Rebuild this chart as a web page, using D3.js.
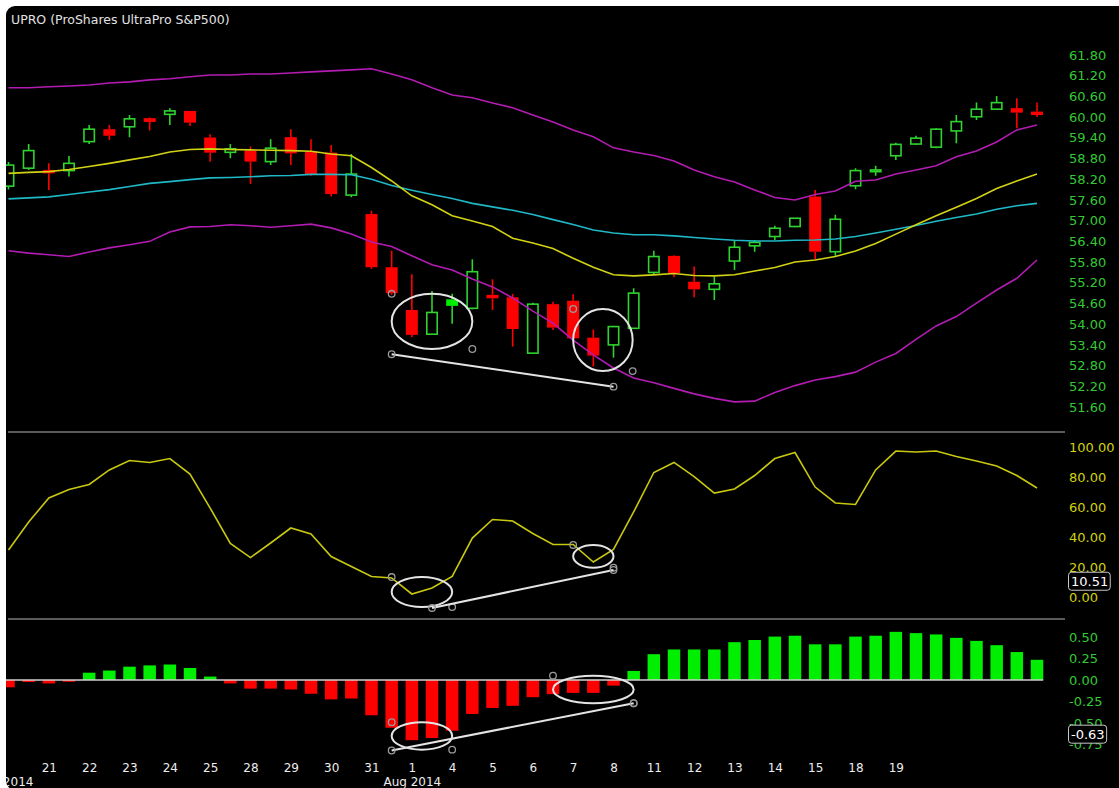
<!DOCTYPE html>
<html>
<head>
<meta charset="utf-8">
<script src="https://cdn.jsdelivr.net/npm/d3@7"></script>
<style>
  html, body { margin: 0; padding: 0; background: #fff; }
  svg { display: block; }
  text { font-family: "DejaVu Sans", Verdana, sans-serif; }
</style>
</head>
<body>
<svg id="chart" width="1119" height="788"></svg>
<script>
// ---- values (two bars per trading day) ----
const opens  = [58.00, 58.52, 58.47, 58.45, 59.29, 59.65, 59.72, 59.97, 60.08, 60.18,
                59.41, 58.98, 59.03, 58.71, 59.42, 59.00, 58.97, 57.74, 57.19, 55.65,
                54.41, 53.71, 54.72, 54.46, 54.85, 54.78, 53.16, 54.58, 54.68, 53.61,
                53.40, 53.88, 55.50, 55.98, 55.23, 55.01, 55.83, 56.27, 56.54, 56.83,
                57.70, 56.10, 58.01, 58.42, 58.88, 59.22, 59.13, 59.60, 60.01, 60.23,
                60.26, 60.16];
const highs  = [58.70, 59.22, 58.66, 58.87, 59.77, 59.77, 60.06, 59.99, 60.26, 60.18,
                59.50, 59.22, 59.15, 59.36, 59.65, 59.36, 59.19, 58.93, 57.29, 56.13,
                55.45, 54.96, 54.88, 55.88, 55.30, 54.88, 54.62, 54.65, 54.87, 53.85,
                53.95, 55.04, 56.13, 56.00, 55.67, 55.38, 56.44, 56.44, 56.85, 57.08,
                57.89, 57.17, 58.52, 58.59, 59.26, 59.46, 59.68, 60.06, 60.42, 60.61,
                60.55, 60.42];
const lows   = [57.90, 58.47, 57.89, 58.28, 59.22, 59.34, 59.42, 59.61, 59.77, 59.74,
                58.71, 58.81, 58.06, 58.61, 58.61, 58.30, 57.70, 57.68, 55.60, 54.85,
                53.62, 53.69, 54.01, 54.43, 54.41, 53.35, 53.15, 53.83, 53.55, 52.77,
                53.03, 53.88, 55.43, 55.36, 54.78, 54.70, 55.57, 56.10, 56.44, 56.81,
                55.88, 55.98, 57.91, 58.30, 58.76, 59.19, 59.10, 59.24, 59.92, 60.22,
                59.68, 60.00];
const closes = [58.61, 59.03, 58.37, 58.66, 59.65, 59.46, 59.95, 59.86, 60.18, 59.84,
                58.97, 59.08, 58.71, 59.10, 58.95, 58.35, 57.77, 58.35, 55.65, 54.90,
                53.69, 54.34, 54.53, 55.52, 54.75, 53.86, 54.58, 53.90, 53.59, 53.09,
                53.93, 54.90, 55.96, 55.48, 55.01, 55.17, 56.23, 56.37, 56.78, 57.07,
                56.10, 57.04, 58.45, 58.47, 59.21, 59.39, 59.65, 59.87, 60.23, 60.42,
                60.13, 60.06];

// bollinger bands (magenta) and middle band (yellow), longer average (cyan)
const bbUpper = [60.85, 60.85, 60.88, 60.90, 60.93, 60.99, 61.02, 61.08, 61.11, 61.17,
                 61.22, 61.22, 61.25, 61.25, 61.28, 61.31, 61.34, 61.37, 61.40, 61.25,
                 61.08, 60.85, 60.64, 60.56, 60.41, 60.27, 60.06, 59.86, 59.63, 59.43,
                 59.11, 58.99, 58.89, 58.73, 58.47, 58.27, 58.12, 57.89, 57.67, 57.60,
                 57.76, 57.86, 58.14, 58.18, 58.35, 58.47, 58.59, 58.85, 59.02, 59.28,
                 59.63, 59.77];
const bbMid   = [58.37, 58.40, 58.42, 58.48, 58.57, 58.66, 58.76, 58.86, 58.99, 59.06,
                 59.08, 59.06, 59.05, 59.04, 59.03, 59.01, 58.93, 58.88, 58.54, 58.15,
                 57.72, 57.46, 57.14, 56.99, 56.83, 56.49, 56.35, 56.19, 55.91, 55.65,
                 55.43, 55.40, 55.43, 55.47, 55.41, 55.40, 55.43, 55.54, 55.64, 55.80,
                 55.86, 55.96, 56.12, 56.34, 56.61, 56.88, 57.14, 57.39, 57.64, 57.93,
                 58.15, 58.35];
const bbLower = [56.13, 56.06, 56.01, 55.96, 56.09, 56.21, 56.30, 56.40, 56.67, 56.82,
                 56.83, 56.88, 56.85, 56.81, 56.85, 56.90, 56.79, 56.61, 56.38, 56.25,
                 55.98, 55.72, 55.57, 55.31, 55.08, 54.76, 54.38, 54.03, 53.54, 53.11,
                 52.73, 52.44, 52.30, 52.14, 51.98, 51.85, 51.75, 51.77, 52.02, 52.22,
                 52.38, 52.48, 52.61, 52.90, 53.15, 53.56, 53.95, 54.22, 54.61, 54.99,
                 55.33, 55.86];
const maLong  = [57.63, 57.66, 57.69, 57.76, 57.83, 57.90, 57.99, 58.08, 58.13, 58.19,
                 58.24, 58.25, 58.27, 58.30, 58.31, 58.34, 58.34, 58.33, 58.20, 58.02,
                 57.88, 57.76, 57.64, 57.50, 57.40, 57.30, 57.18, 57.03, 56.89, 56.73,
                 56.64, 56.59, 56.59, 56.56, 56.51, 56.47, 56.43, 56.41, 56.41, 56.43,
                 56.44, 56.47, 56.54, 56.64, 56.75, 56.86, 56.98, 57.09, 57.19, 57.33,
                 57.43, 57.50];

const stoch = [31.3, 50.0, 66.0, 71.7, 75.0, 84.7, 91.0, 89.7, 92.3, 82.0,
               59.3, 35.7, 26.3, 36.0, 46.0, 42.0, 27.0, 20.3, 13.7, 12.7,
               2.0, 6.0, 13.7, 39.3, 51.7, 50.7, 42.3, 35.0, 35.0, 23.3,
               31.7, 56.7, 83.0, 89.7, 80.3, 69.3, 72.0, 81.0, 92.3, 96.3,
               73.3, 62.7, 61.7, 84.7, 97.3, 96.7, 97.3, 93.7, 90.7, 87.3,
               81.0, 72.7];
const macdHist = [-0.085, -0.023, -0.04, -0.02, 0.085, 0.11, 0.155, 0.17, 0.18, 0.14,
                  0.04, -0.04, -0.10, -0.10, -0.11, -0.16, -0.225, -0.215, -0.41, -0.555,
                  -0.70, -0.675, -0.59, -0.395, -0.325, -0.30, -0.20, -0.165, -0.15, -0.15,
                  -0.065, 0.105, 0.30, 0.355, 0.355, 0.355, 0.44, 0.465, 0.505, 0.515,
                  0.415, 0.415, 0.505, 0.515, 0.56, 0.545, 0.53, 0.49, 0.455, 0.405,
                  0.325, 0.235];

// tick labels
const priceTicks = [51.6, 52.2, 52.8, 53.4, 54.0, 54.6, 55.2, 55.8, 56.4, 57.0,
                    57.6, 58.2, 58.8, 59.4, 60.0, 60.6, 61.2, 61.8];
const stochTicks = [0, 20, 40, 60, 80, 100];
const macdTicks  = [-0.75, -0.5, -0.25, 0, 0.25, 0.5];
const dayTickIdx = [2, 4, 6, 8, 10, 12, 14, 16, 18, 20, 22, 24, 26, 28, 30, 32, 34, 36, 38, 40, 42, 44];
const dayTicks   = ["21", "22", "23", "24", "25", "28", "29", "30", "31", "1", "4",
                    "5", "6", "7", "8", "11", "12", "13", "14", "15", "18", "19"];
const monthIdx   = [0, 20];
const monthTicks = ["Jul 2014", "Aug 2014"];
const stochTag = 10.51, macdTag = -0.63;

// hand drawn notes: ellipses as [i0, v0, i1, v1] boxes, trend lines as two points
const priceEllipses = [[19.0, 54.88, 23.0, 53.28], [28.0, 54.44, 30.95, 52.64]];
const priceTrend    = [[19.0, 53.13], [30.0, 52.19]];
const stochEllipses = [[19.0, 13.3, 22.0, -6.7], [28.0, 34.7, 30.0, 19.5]];
const stochTrend    = [[21.0, -7.3], [30.0, 18.0]];
const macdEllipses  = [[19.0, -0.49, 22.0, -0.81], [27.0, 0.05, 31.0, -0.27]];
const macdTrend     = [[19.0, -0.82], [31.0, -0.27]];

// ---- layout ----
const W = 1119, H = 788;
const N = closes.length;
const GREEN = "#2fd22f", LIME = "#00ee00", RED = "#ff0000";
const fmt2 = v => v.toFixed(2);   // plain hyphen minus like the original

const x = d3.scaleLinear().domain([0, N - 1]).range([8.5, 1037]);
const step = x(1) - x(0);
const yPrice = d3.scaleLinear().domain([51.6, 61.8]).range([407, 55]);
const yStoch = d3.scaleLinear().domain([0, 100]).range([597, 447]);
const yMacd  = d3.scaleLinear().domain([-0.75, 0.5]).range([744.5, 637]);

const svg = d3.select("#chart");

svg.append("clipPath").attr("id", "panel-clip")
  .append("rect")
  .attr("x", 6).attr("y", 6)
  .attr("width", W + 20).attr("height", H - 4)
  .attr("rx", 9);

const root = svg.append("g").attr("clip-path", "url(#panel-clip)");
root.append("rect")
  .attr("x", 0).attr("y", 0).attr("width", W).attr("height", H)
  .attr("fill", "#000");

// title
root.append("text")
  .attr("x", 11).attr("y", 24)
  .attr("font-size", 12.5)
  .attr("fill", "#e2e2e2")
  .text("UPRO (ProShares UltraPro S&P500)");

// panel separators
[432, 619].forEach(function(sy) {
  root.append("line")
    .attr("x1", 8).attr("x2", 1065)
    .attr("y1", sy).attr("y2", sy)
    .attr("stroke", "#7a7a7a").attr("stroke-width", 1.5);
});

// ---- candles ----
const bars = d3.range(N).map(function(i) {
  let up = i === 0 ? true : closes[i] >= closes[i - 1];
  return { i: i, o: opens[i], h: highs[i], l: lows[i], c: closes[i],
           color: up ? GREEN : RED, filled: closes[i] < opens[i] };
});
const bodyW = 12;

const cg = root.append("g");
const candle = cg.selectAll(".candle").data(bars).enter().append("g").attr("class", "candle");

// upper wick
candle.append("line")
  .attr("x1", d => x(d.i)).attr("x2", d => x(d.i))
  .attr("y1", d => yPrice(d.h))
  .attr("y2", d => yPrice(Math.max(d.o, d.c)))
  .attr("stroke", d => d.color).attr("stroke-width", 1.6);
// lower wick
candle.append("line")
  .attr("x1", d => x(d.i)).attr("x2", d => x(d.i))
  .attr("y1", d => yPrice(Math.min(d.o, d.c)))
  .attr("y2", d => yPrice(d.l))
  .attr("stroke", d => d.color).attr("stroke-width", 1.6);
// body
candle.append("rect")
  .attr("x", d => x(d.i) - bodyW / 2 + (d.filled ? 0 : 0.8))
  .attr("width", d => d.filled ? bodyW : bodyW - 1.6)
  .attr("y", d => yPrice(Math.max(d.o, d.c)))
  .attr("height", d => Math.max(1.6, Math.abs(yPrice(d.o) - yPrice(d.c))))
  .attr("fill", d => d.filled ? (d.color === GREEN ? LIME : d.color) : "none")
  .attr("stroke", d => d.filled ? "none" : d.color)
  .attr("stroke-width", 1.6);

// ---- overlays ----
function series(vals, yScale) {
  return d3.line().x((d, i) => x(i)).y(d => yScale(d))(vals);
}
const overlays = [
  [maLong, "#1fb8c6"],
  [bbMid, "#d2d214"],
  [bbUpper, "#b21cb2"],
  [bbLower, "#b21cb2"]
];
overlays.forEach(function(o) {
  root.append("path")
    .attr("d", series(o[0], yPrice))
    .attr("fill", "none")
    .attr("stroke", o[1])
    .attr("stroke-width", 1.6);
});

// ---- stochastic ----
root.append("path")
  .attr("d", series(stoch, yStoch))
  .attr("fill", "none")
  .attr("stroke", "#c8c810")
  .attr("stroke-width", 1.6);

// ---- macd histogram ----
const barW = step * 0.62;
root.append("g").selectAll("rect")
  .data(macdHist)
  .enter().append("rect")
  .attr("x", (d, i) => x(i) - barW / 2)
  .attr("width", barW)
  .attr("y", d => yMacd(Math.max(0, d)))
  .attr("height", d => Math.abs(yMacd(d) - yMacd(0)))
  .attr("fill", d => d >= 0 ? LIME : RED);

root.append("line")
  .attr("x1", x(0) - barW / 2).attr("x2", x(N - 1) + barW / 2)
  .attr("y1", yMacd(0)).attr("y2", yMacd(0))
  .attr("stroke", "#d0d0d0").attr("stroke-width", 1.5);

// ---- notes (ellipses, trend lines, handles) ----
function handle(g, hx, hy) {
  g.append("circle")
    .attr("cx", hx).attr("cy", hy).attr("r", 3.3)
    .attr("fill", "none").attr("stroke", "#9a9a9a").attr("stroke-width", 1.3);
}
function drawNotes(yScale, ellipses, trend) {
  let g = root.append("g");
  ellipses.forEach(function(e) {
    let x0 = x(e[0]), y0 = yScale(e[1]), x1 = x(e[2]), y1 = yScale(e[3]);
    g.append("ellipse")
      .attr("cx", (x0 + x1) / 2).attr("cy", (y0 + y1) / 2)
      .attr("rx", Math.abs(x1 - x0) / 2).attr("ry", Math.abs(y1 - y0) / 2)
      .attr("fill", "none").attr("stroke", "#e4e4e4").attr("stroke-width", 2);
    handle(g, x0, y0);
    handle(g, x1, y1);
  });
  g.append("line")
    .attr("x1", x(trend[0][0])).attr("y1", yScale(trend[0][1]))
    .attr("x2", x(trend[1][0])).attr("y2", yScale(trend[1][1]))
    .attr("stroke", "#e4e4e4").attr("stroke-width", 2);
  trend.forEach(p => handle(g, x(p[0]), yScale(p[1])));
}
drawNotes(yPrice, priceEllipses, priceTrend);
drawNotes(yStoch, stochEllipses, stochTrend);
drawNotes(yMacd, macdEllipses, macdTrend);

// ---- right axes ----
function rightAxis(scale, ticks, color) {
  let g = root.append("g")
    .attr("transform", "translate(1069,0)")
    .call(d3.axisRight(scale).tickValues(ticks).tickFormat(fmt2).tickSize(0).tickPadding(0));
  g.select(".domain").remove();
  g.selectAll("text")
    .attr("fill", color)
    .attr("font-size", 13)
    .attr("font-family", "DejaVu Sans, Verdana, sans-serif");
  return g;
}
rightAxis(yPrice, priceTicks, "#34c934");
rightAxis(yStoch, stochTicks, "#d2d20a");
rightAxis(yMacd, macdTicks, "#34c934");

// last value tags (they sit over the axis labels, as in the original)
function tag(ty, label) {
  let g = root.append("g").attr("transform", "translate(1069," + ty + ")");
  let t = g.append("text")
    .attr("x", 2).attr("y", 0).attr("dy", "0.36em")
    .attr("font-size", 13).attr("fill", "#fff")
    .text(label);
  let w = t.node().getComputedTextLength();
  g.insert("rect", "text")
    .attr("x", -0.5).attr("y", -9)
    .attr("width", w + 4.5).attr("height", 18)
    .attr("rx", 3)
    .attr("fill", "#000").attr("stroke", "#c8c8c8").attr("stroke-width", 1);
}
tag(yStoch(stochTag), fmt2(stochTag));
tag(yMacd(macdTag), fmt2(macdTag));

// ---- date axis ----
let dAxis = root.append("g")
  .attr("transform", "translate(0,763)")
  .call(d3.axisBottom(x).tickValues(dayTickIdx)
    .tickFormat((d, i) => dayTicks[i]).tickSize(0).tickPadding(0));
dAxis.select(".domain").remove();
dAxis.selectAll("text")
  .attr("fill", "#ededed").attr("font-size", 12)
  .attr("font-family", "DejaVu Sans, Verdana, sans-serif");

let mAxis = root.append("g")
  .attr("transform", "translate(0,777)")
  .call(d3.axisBottom(x).tickValues(monthIdx)
    .tickFormat((d, i) => monthTicks[i]).tickSize(0).tickPadding(0));
mAxis.select(".domain").remove();
mAxis.selectAll("text")
  .attr("fill", "#ededed").attr("font-size", 12)
  .attr("font-family", "DejaVu Sans, Verdana, sans-serif");
</script>
</body>
</html>
